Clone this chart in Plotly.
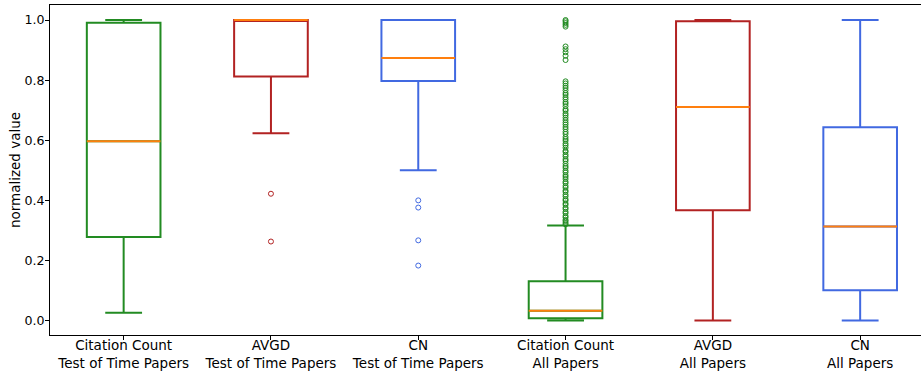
import plotly.graph_objects as go

categories = ["Citation Count<br>Test of Time Papers", "AVGD<br>Test of Time Papers", "CN<br>Test of Time Papers",
              "Citation Count<br>All Papers", "AVGD<br>All Papers", "CN<br>All Papers"]
positions = [1, 2, 3, 4, 5, 6]
lower_whisker = [0.026, 0.623, 0.500, 0.000, 0.000, 0.000]
q1_values = [0.278, 0.812, 0.797, 0.008, 0.367, 0.101]
medians = [0.597, 1.000, 0.874, 0.033, 0.711, 0.313]
q3_values = [0.991, 1.000, 1.000, 0.131, 0.996, 0.643]
upper_whisker = [1.000, 1.000, 1.000, 0.316, 1.000, 1.000]
colors = ["#228B22", "#B22222", "#4169E1", "#228B22", "#B22222", "#4169E1"]
median_color = "#FF7F0E"

outliers = [
    [],
    [0.422, 0.263],
    [0.400, 0.376, 0.267, 0.183],
    [1.000, 0.996, 0.990, 0.984, 0.978,
     0.912, 0.903, 0.893, 0.881, 0.867,
     0.796, 0.789, 0.781, 0.774, 0.766, 0.757, 0.751, 0.743, 0.736, 0.727,
     0.721, 0.713, 0.703, 0.698, 0.689, 0.683, 0.675, 0.667, 0.659, 0.652,
     0.644, 0.637, 0.628, 0.621, 0.611, 0.604, 0.598, 0.589, 0.583, 0.575,
     0.565, 0.561, 0.552, 0.546, 0.537, 0.531, 0.522, 0.514, 0.508, 0.499,
     0.493, 0.484, 0.478, 0.471, 0.462, 0.457, 0.448, 0.442, 0.433, 0.428,
     0.419, 0.413, 0.404, 0.399, 0.390, 0.385, 0.376, 0.371, 0.362, 0.357,
     0.348, 0.343, 0.335, 0.331, 0.325, 0.320],
    [],
    [],
]

box_width = 0.5
xfont = dict(family="DejaVu Sans", size=13.5, color="#000000")
yfont = dict(family="DejaVu Sans", size=12.6, color="#000000")

fig = go.Figure()
for i, pos in enumerate(positions):
    fig.add_trace(go.Box(
        x=[pos], q1=[q1_values[i]], median=[medians[i]], q3=[q3_values[i]],
        lowerfence=[lower_whisker[i]], upperfence=[upper_whisker[i]],
        width=box_width, whiskerwidth=0.5, boxpoints=False,
        line=dict(color=colors[i], width=2), fillcolor="rgba(0,0,0,0)",
        showlegend=False, hoverinfo="skip",
    ))
    fig.add_trace(go.Scatter(
        x=[pos - box_width / 2, pos + box_width / 2], y=[medians[i], medians[i]],
        mode="lines", line=dict(color=median_color, width=2),
        showlegend=False, hoverinfo="skip",
    ))
    if outliers[i]:
        fig.add_trace(go.Scatter(
            x=[pos] * len(outliers[i]), y=outliers[i], mode="markers",
            marker=dict(symbol="circle-open", size=5, color=colors[i], line=dict(width=1, color=colors[i])),
            showlegend=False, hoverinfo="skip",
        ))

fig.update_layout(
    width=922, height=371,
    margin=dict(l=50, r=1, t=5, b=36),
    paper_bgcolor="white", plot_bgcolor="white",
    font=xfont,
    showlegend=False,
    xaxis=dict(
        range=[0.5, 6.413], tickmode="array", tickvals=positions, ticktext=categories,
        showgrid=False, zeroline=False, showline=True, linecolor="#000000", linewidth=1,
        mirror=True, ticks="outside", ticklen=4, tickcolor="#000000", tickfont=xfont,
        automargin=False, ticklabelstandoff=-6,
    ),
    yaxis=dict(
        range=[-0.048, 1.05], tickmode="array", tickvals=[0, 0.2, 0.4, 0.6, 0.8, 1.0],
        tickformat=".1f", showgrid=False, zeroline=False, showline=True,
        linecolor="#000000", linewidth=1, ticks="outside", ticklen=4, tickcolor="#000000",
        tickfont=yfont, automargin=False, ticklabelstandoff=-2,
        title=dict(text="normalized value", font=xfont, standoff=0),
    ),
)

fig.write_html("out.html", config={"displayModeBar": False},
               post_script="document.body.style.margin='0';document.body.style.padding='0';")
